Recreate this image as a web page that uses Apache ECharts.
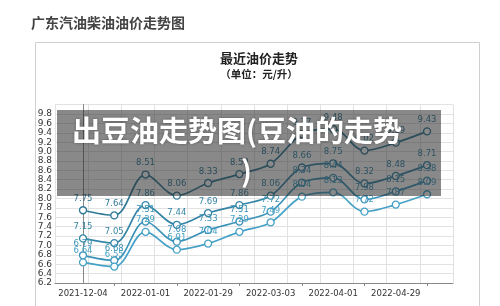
<!DOCTYPE html>
<html><head><meta charset="utf-8">
<script src="https://cdn.jsdelivr.net/npm/echarts@6/dist/echarts.min.js"></script>
<style>html,body{margin:0;padding:0;background:#fff}#c{width:500px;height:306px}</style>
</head><body><div id="c"></div>
<script>
// categories (one per data point) and which ones carry labels / ticks
const dates = ['2021-12-04','2021-12-18','2022-01-01','2022-01-15','2022-01-29','2022-02-17','2022-03-03','2022-03-17','2022-04-01','2022-04-15','2022-04-29','2022-05-13'];
const labelIdx = [0,2,4,6,8,10];
const tickIdx = [1,3,5,7,9,11];
// series values (元/升)
const seriesA = [7.75,7.64,8.51,8.06,8.33,8.52,8.74,9.37,9.48,9.02,9.19,9.43];
const seriesB = [7.15,7.05,7.86,7.44,7.69,7.86,8.06,8.66,8.75,8.32,8.48,8.71];
const seriesC = [6.79,6.68,7.51,7.08,7.33,7.51,7.72,8.34,8.44,7.98,8.15,8.38];
const seriesD = [6.64,6.55,7.29,6.91,7.04,7.29,7.49,8.04,8.13,7.72,7.87,8.09];
const seriesNames = ['A','B','C','D'];
const yMin = 6.2, yMax = 10.0, yStep = 0.2;

const colors = ['#2f7896','#3585a6','#3b93b8','#46a1c6'];
const all = [seriesA, seriesB, seriesC, seriesD];

const chart = echarts.init(document.getElementById('c'), null, {renderer:'canvas'});
const axisFont = 'DejaVu Sans, Verdana, sans-serif';
chart.setOption({
  backgroundColor: '#ffffff',
  animation: false,
  title: [
    {text: '广东汽油柴油油价走势图', left: 26, top: 11,
     textStyle: {fontSize: 14, fontWeight: 'bold', color: '#444', fontFamily: 'Noto Sans CJK SC'}},
    {text: '最近油价走势', subtext: '（单位：元/升）', left: 254, top: 47, textAlign: 'center', itemGap: 4,
     textStyle: {fontSize: 13, fontWeight: 'bold', color: '#222', fontFamily: 'Noto Sans CJK SC'},
     subtextStyle: {fontSize: 10.5, fontWeight: 'bold', color: '#222', fontFamily: 'Noto Sans CJK SC'}}
  ],
  grid: {left: 55, right: 47, top: 104.6, bottom: 23, containLabel: false},
  xAxis: [
    {type: 'value', min: -0.895, max: 11.83,
     axisLine: {show: true, lineStyle: {color: '#888', width: 1}},
     axisTick: {show: true, customValues: tickIdx, length: 3, inside: false, lineStyle: {color: '#888'}},
     axisLabel: {customValues: labelIdx, formatter: v => dates[Math.round(v)] || '',
                 fontSize: 8.5, color: '#333', fontFamily: axisFont, margin: 6},
     splitLine: {show: false}},
    {type: 'value', min: 0, max: 12, interval: 1, show: true,
     axisLine: {show: false}, axisTick: {show: false}, axisLabel: {show: false},
     splitLine: {show: true, lineStyle: {color: '#e2e2e2', width: 1}}}
  ],
  yAxis: {type: 'value', min: yMin, max: yMax, interval: yStep,
    axisLine: {show: true, lineStyle: {color: '#888'}},
    axisTick: {show: false},
    axisLabel: {fontSize: 9, color: '#333', fontFamily: axisFont, margin: 3, showMaxLabel: false,
                formatter: v => v.toFixed(1)},
    splitLine: {show: true, lineStyle: {color: '#e2e2e2', width: 1}}},
  series: all.map((arr, k) => ({
    name: seriesNames[k], type: 'line', xAxisIndex: 0, smooth: 0.35,
    data: arr.map((v, i) => [i, v]),
    symbol: 'circle', symbolSize: 7,
    itemStyle: {color: '#fff', borderColor: colors[k], borderWidth: 1.3},
    lineStyle: {color: colors[k], width: 1.7},
    label: {show: true, position: 'top', distance: 3, fontSize: 8.5, color: colors[k],
            fontFamily: axisFont, formatter: p => p.value[1].toFixed(2)},
    z: 3
  })),
  graphic: [
    {type: 'rect', left: 33, top: 40, shape: {width: 444, height: 275},
     style: {fill: 'none', stroke: '#cfcfcf', lineWidth: 1}, z: 0, silent: true},
    {type: 'rect', left: 57, top: 110, shape: {width: 384, height: 86},
     style: {fill: 'rgba(40,40,40,0.55)'}, z: 100, silent: true},
    {type: 'text', left: 72, top: 116, z: 101,
     style: {text: '出豆油走势图(豆油的走势', fill: '#fff', fontSize: 29, fontWeight: 'bold',
             fontFamily: 'Noto Sans CJK SC', textShadowColor: 'rgba(0,0,0,0.35)', textShadowBlur: 3}},
    {type: 'text', left: 241, top: 156, z: 101,
     style: {text: ')', fill: '#fff', fontSize: 29, fontWeight: 'bold',
             fontFamily: 'Noto Sans CJK SC', textShadowColor: 'rgba(0,0,0,0.35)', textShadowBlur: 3}}
  ]
});
</script></body></html>
